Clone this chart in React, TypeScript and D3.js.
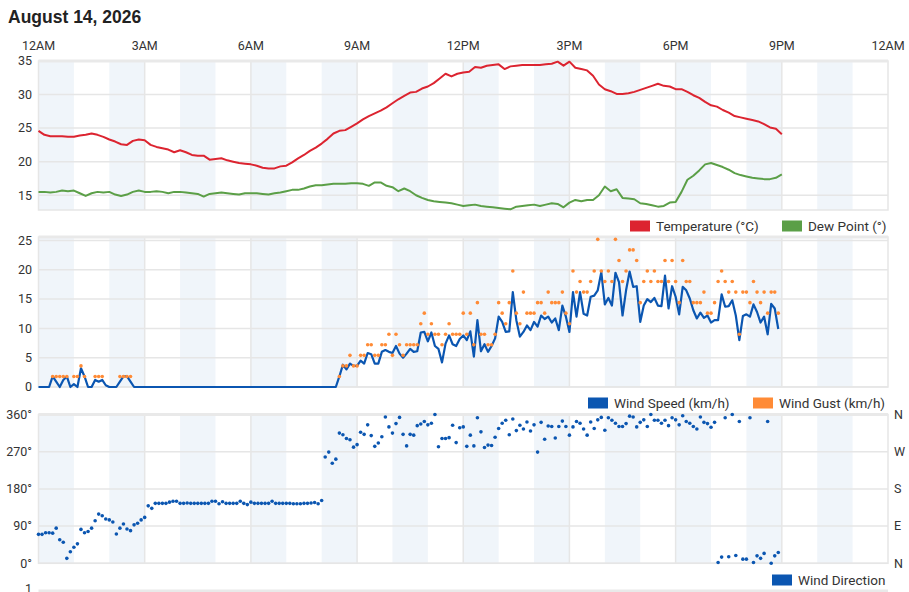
import * as d3 from "d3"

// 10-minute samples from 12AM to 9PM
const temperature = [
  24.6, 24.0, 23.8, 23.8, 23.8, 23.7, 23.7, 23.9, 24.0, 24.2, 24.0, 23.7,
  23.3, 23.0, 22.6, 22.5, 23.1, 23.3, 23.2, 22.5, 22.2, 22.0, 21.8, 21.4,
  21.7, 21.4, 21.0, 20.9, 20.9, 20.3, 20.4, 20.5, 20.2, 20.0, 19.8, 19.7,
  19.6, 19.4, 19.1, 19.0, 19.0, 19.3, 19.4, 19.9, 20.5, 21.0, 21.6, 22.1,
  22.7, 23.4, 24.2, 24.6, 24.7, 25.2, 25.7, 26.3, 26.8, 27.2, 27.6, 28.1,
  28.7, 29.3, 29.8, 30.3, 30.4, 30.9, 31.2, 31.7, 32.4, 33.1, 32.7, 33.1,
  33.3, 33.4, 34.1, 34.0, 34.3, 34.4, 34.5, 33.8, 34.2, 34.3, 34.4, 34.4,
  34.4, 34.4, 34.5, 34.6, 34.9, 34.3, 34.9, 34.0, 33.8, 33.6, 32.8, 31.5,
  30.8, 30.5, 30.1, 30.1, 30.2, 30.4, 30.7, 31.0, 31.3, 31.6, 31.3, 31.2,
  30.8, 30.8, 30.4, 29.9, 29.5, 28.9, 28.4, 28.2, 27.7, 27.3, 26.8, 26.6,
  26.4, 26.2, 26.0, 25.6, 25.1, 24.9, 24.1,
]

const dewPoint = [
  15.5, 15.5, 15.4, 15.5, 15.7, 15.6, 15.7, 15.3, 14.9, 15.3, 15.5, 15.4,
  15.5, 15.1, 14.9, 15.1, 15.5, 15.7, 15.5, 15.5, 15.6, 15.5, 15.3, 15.5,
  15.5, 15.4, 15.3, 15.2, 14.8, 15.2, 15.3, 15.4, 15.3, 15.2, 15.1, 15.3,
  15.3, 15.3, 15.2, 15.1, 15.3, 15.4, 15.6, 15.8, 15.8, 16.0, 16.3, 16.5,
  16.5, 16.6, 16.7, 16.7, 16.7, 16.8, 16.8, 16.7, 16.4, 16.9, 16.9, 16.4,
  16.2, 15.6, 16.0, 15.6, 15.0, 14.6, 14.3, 14.1, 14.0, 13.9, 13.8, 13.6,
  13.4, 13.5, 13.6, 13.4, 13.3, 13.2, 13.1, 13.0, 12.9, 13.3, 13.4, 13.5,
  13.6, 13.4, 13.6, 13.8, 13.7, 13.2, 13.9, 14.3, 14.1, 14.3, 14.3, 15.0,
  16.3, 15.6, 15.9, 14.6, 14.5, 14.4, 13.8, 13.7, 13.5, 13.3, 13.4, 13.9,
  14.0, 15.5, 17.3, 17.9, 18.7, 19.6, 19.8, 19.5, 19.2, 18.8, 18.3, 18.0,
  17.8, 17.6, 17.5, 17.4, 17.4, 17.6, 18.1,
]

// 6-minute samples from 12AM
const windSpeed = [
  0, 0, 0, 0, 1.8, 0.9, 0, 1.2, 1.8, 0,
  0.5, 0, 3.2, 1.8, 0, 0, 1.2, 0.9, 1.2, 0.3,
  0, 0, 0, 0.9, 1.8, 1.8, 0.9, 0, 0, 0,
  0, 0, 0, 0, 0, 0, 0, 0, 0, 0,
  0, 0, 0, 0, 0, 0, 0, 0, 0, 0,
  0, 0, 0, 0, 0, 0, 0, 0, 0, 0,
  0, 0, 0, 0, 0, 0, 0, 0, 0, 0,
  0, 0, 0, 0, 0, 0, 0, 0, 0, 0,
  0, 0, 0, 0, 0, 1.8, 3.8, 3.0, 4.0, 3.6,
  3.6, 4.5, 4.0, 5.8, 5.6, 4.0, 4.0, 6.0, 6.3, 6.0,
  5.8, 7.0, 5.7, 5.0, 5.7, 6.5, 6.0, 6.1, 9.3, 9.4,
  7.8, 9.3, 7.0, 6.5, 4.2, 7.4, 8.8, 7.3, 7.0, 8.2,
  8.8, 8.0, 9.5, 5.2, 11.4, 6.1, 7.3, 6.0, 7.0, 8.3,
  12.0, 11.1, 9.4, 9.5, 16.2, 11.4, 8.6, 9.4, 10.5, 9.7,
  11.1, 10.3, 12.2, 11.6, 12.0, 11.0, 11.7, 9.7, 13.9, 12.0,
  9.4, 16.2, 12.0, 16.2, 12.5, 12.2, 15.4, 15.6, 16.5, 19.6,
  14.1, 15.2, 13.9, 19.5, 17.9, 12.2, 16.5, 19.7, 17.1, 17.2,
  11.1, 13.9, 15.0, 14.5, 15.2, 13.9, 13.8, 19.0, 13.4, 17.2,
  15.4, 12.4, 17.1, 16.5, 15.1, 13.1, 11.7, 12.7, 11.8, 12.2,
  11.0, 11.4, 11.4, 15.8, 13.7, 13.8, 14.8, 12.2, 8.0, 12.1,
  12.4, 12.0, 14.1, 12.8, 11.0, 12.0, 9.0, 14.2, 13.4, 9.9,
]

const windGust: (number | null)[] = [
  null, null, null, null, 1.8, 1.8, 1.8, 1.8, 1.8, null,
  1.8, 1.8, 3.6, 1.8, null, null, 1.8, 1.8, 1.8, null,
  null, null, null, 1.8, 1.8, 1.8, 1.8, null, null, null,
  null, null, null, null, null, null, null, null, null, null,
  null, null, null, null, null, null, null, null, null, null,
  null, null, null, null, null, null, null, null, null, null,
  null, null, null, null, null, null, null, null, null, null,
  null, null, null, null, null, null, null, null, null, null,
  null, null, null, null, null, 1.8, 3.6, 3.6, 5.4, 3.6,
  3.6, 5.4, 5.4, 7.2, 7.2, 5.4, 5.4, 7.2, 7.2, 9.0,
  5.4, 9.0, 7.2, 5.4, 7.2, 7.2, 7.2, 7.2, 10.8, 12.6,
  9.0, 10.8, 9.0, 9.0, 7.2, 9.0, 10.8, 9.0, 9.0, 9.0,
  12.6, 9.0, 12.6, 7.2, 14.4, 9.0, 9.0, 7.2, 7.2, 9.0,
  14.4, 12.6, 10.8, 14.4, 19.8, 12.6, 10.8, 16.2, 12.6, 12.6,
  12.6, 14.4, 14.4, 12.6, 16.2, 14.4, 14.4, 14.4, 16.2, 12.6,
  10.8, 19.8, 16.2, 18.0, 16.2, 16.2, 18.0, 19.8, 25.2, 19.8,
  18.0, 19.8, 18.0, 25.2, 21.6, 18.0, 19.8, 23.4, 23.4, 21.6,
  14.4, 18.0, 19.8, 18.0, 19.8, 18.0, 18.0, 21.6, 18.0, 21.6,
  18.0, 14.4, 21.6, 18.0, 18.0, 14.4, 14.4, 14.4, 16.2, 12.6,
  12.6, 14.4, 18.0, 19.8, 18.0, 16.2, 18.0, 16.2, 9.0, 16.2,
  16.2, 14.4, 18.0, 16.2, 14.4, 16.2, 12.6, 16.2, 16.2, 12.6,
]

const windDir = [
  70, 70, 74, 74, 73, 85, 57, 51, 12, 28,
  39, 47, 82, 74, 77, 85, 103, 119, 115, 107,
  105, 100, 71, 85, 95, 83, 79, 93, 97, 105,
  111, 139, 133, 145, 145, 145, 145, 148, 150, 150,
  145, 145, 146, 145, 145, 145, 145, 145, 145, 150,
  150, 144, 149, 145, 145, 145, 145, 150, 145, 142,
  148, 145, 145, 145, 145, 145, 150, 145, 145, 145,
  145, 145, 144, 144, 144, 145, 145, 146, 147, 144,
  152, 257, 269, 242, 252, 315, 311, 302, 299, 281,
  287, 317, 312, 335, 309, 283, 291, 306, 354, 330,
  315, 338, 353, 312, 284, 312, 310, 333, 337, 343,
  335, 339, 360, 282, 302, 302, 304, 334, 292, 328,
  330, 283, 310, 284, 352, 318, 280, 286, 285, 305,
  326, 339, 346, 311, 349, 321, 334, 325, 342, 320,
  335, 269, 341, 300, 332, 331, 303, 331, 344, 331,
  310, 330, 343, 339, 325, 310, 342, 326, 347, 353,
  322, 352, 346, 339, 331, 331, 338, 356, 354, 330,
  341, 347, 331, 360, 346, 346, 339, 346, 333, 352,
  347, 335, 357, 343, 339, 331, 325, 354, 341, 338,
  329, 341, 2, 15, 352, 16, 360, 19, 343, 10,
  10, 352, 2, 18, 12, 24, 343, 0, 18, 26,
]

const hourLabels = ["12AM", "3AM", "6AM", "9AM", "12PM", "3PM", "6PM", "9PM", "12AM"]
const tempTicks = [15, 20, 25, 30, 35]
const windTicks = [0, 5, 10, 15, 20, 25]
const dirTicks = [0, 90, 180, 270, 360]
const dirNames = ["N", "E", "S", "W", "N"]

const TEMP_STEP = 10
const WIND_STEP = 6

const COLORS = {
  temp: "#dc2430",
  dew: "#5b9f47",
  speed: "#0b56b1",
  gust: "#ff8b36",
  grid: "#e6e6e6",
  band: "#f0f5fa",
  text: "#333",
}

const FONT = "Roboto, 'Liberation Sans', Arial, sans-serif"

const x = d3.scaleLinear().domain([0, 1440]).range([38.5, 888])

const panels = {
  temp: { top: 61, bottom: 210 },
  wind: { top: 237, bottom: 387 },
  dir: { top: 414.5, bottom: 563.3 },
}

const yTemp = d3.scaleLinear().domain([12.8, 35]).range([panels.temp.bottom, panels.temp.top])
const yWind = d3.scaleLinear().domain([0, 25.6]).range([panels.wind.bottom, panels.wind.top])
const yDir = d3.scaleLinear().domain([0, 360]).range([panels.dir.bottom, panels.dir.top])

const bands = d3.range(0, 24, 2)
const vGrid = d3.range(180, 1440, 180)

function PanelFrame({ top, bottom, ticks, y, fmt }: { top: number; bottom: number; ticks: number[]; y: d3.ScaleLinear<number, number>; fmt?: (d: number) => string }) {
  return (
    <g>
      <rect x={x(0)} y={top} width={x(1440) - x(0)} height={bottom - top} fill="#fff" />
      {bands.map((h) => (
        <rect key={h} x={x(h * 60)} y={top} width={x(h * 60 + 60) - x(h * 60)} height={bottom - top} fill={COLORS.band} />
      ))}
      {ticks.map((t) => (
        <line key={t} x1={x(0)} x2={x(1440)} y1={y(t)} y2={y(t)} stroke={COLORS.grid} strokeWidth={1.5} />
      ))}
      {vGrid.map((m) => (
        <line key={m} x1={x(m)} x2={x(m)} y1={top} y2={bottom} stroke={COLORS.grid} strokeWidth={1.5} />
      ))}
      <rect x={x(0)} y={top} width={x(1440) - x(0)} height={bottom - top} fill="none" stroke={COLORS.grid} strokeWidth={1.5} />
      <line x1={x(0)} x2={x(1440)} y1={top} y2={top} stroke="#e9e9e9" strokeWidth={3} />
      {ticks.map((t) => (
        <text key={t} x={32} y={y(t)} dy="0.35em" textAnchor="end" fontSize={12.5} fill={COLORS.text} fontFamily={FONT}>
          {fmt ? fmt(t) : t}
        </text>
      ))}
    </g>
  )
}

function LegendItem({ lx, ly, color, label }: { lx: number; ly: number; color: string; label: string }) {
  return (
    <g>
      <rect x={lx} y={ly - 5.5} width={20} height={11} fill={color} />
      <text x={lx + 26} y={ly} dy="0.36em" fontSize={13.5} fill={COLORS.text} fontFamily={FONT}>
        {label}
      </text>
    </g>
  )
}

export default function App() {
  const tempLine = d3
    .line<number>()
    .x((_, i) => x(i * TEMP_STEP))
    .y((d) => yTemp(d))
  const speedLine = d3
    .line<number>()
    .x((_, i) => x(i * WIND_STEP))
    .y((d) => yWind(d))

  return (
    <svg width={909} height={592} style={{ position: "absolute", left: 0, top: 0, background: "#fff" }}>
      <text x={8} y={23} fontSize={17.5} fontWeight="bold" fill="#222" fontFamily="'Liberation Sans', Arial, sans-serif">
        August 14, 2026
      </text>

      {hourLabels.map((l, i) => (
        <text key={i} x={x(i * 180)} y={46} dy="0.35em" textAnchor="middle" fontSize={12.5} fill={COLORS.text} fontFamily={FONT}>
          {l}
        </text>
      ))}

      {/* Temperature / dew point */}
      <PanelFrame top={panels.temp.top} bottom={panels.temp.bottom} ticks={tempTicks} y={yTemp} />
      <path d={tempLine(dewPoint) || ""} fill="none" stroke={COLORS.dew} strokeWidth={2} strokeLinejoin="round" />
      <path d={tempLine(temperature) || ""} fill="none" stroke={COLORS.temp} strokeWidth={2} strokeLinejoin="round" />
      <LegendItem lx={630} ly={226} color={COLORS.temp} label="Temperature (°C)" />
      <LegendItem lx={782} ly={226} color={COLORS.dew} label="Dew Point (°)" />

      {/* Wind speed / gust */}
      <PanelFrame top={panels.wind.top} bottom={panels.wind.bottom} ticks={windTicks} y={yWind} />
      <path d={speedLine(windSpeed) || ""} fill="none" stroke={COLORS.speed} strokeWidth={2.2} strokeLinejoin="round" />
      {windGust.map((g, i) =>
        g === null ? null : <circle key={i} cx={x(i * WIND_STEP)} cy={yWind(g)} r={1.8} fill={COLORS.gust} />,
      )}
      <LegendItem lx={588} ly={403} color={COLORS.speed} label="Wind Speed (km/h)" />
      <LegendItem lx={753} ly={403} color={COLORS.gust} label="Wind Gust (km/h)" />

      {/* Wind direction */}
      <PanelFrame top={panels.dir.top} bottom={panels.dir.bottom} ticks={dirTicks} y={yDir} fmt={(d) => `${d}°`} />
      {windDir.map((d, i) => (
        <circle key={i} cx={x(i * WIND_STEP)} cy={yDir(d)} r={1.8} fill={COLORS.speed} />
      ))}
      {dirTicks.map((t, i) => (
        <text key={t} x={894} y={yDir(t)} dy="0.35em" fontSize={12.5} fill={COLORS.text} fontFamily={FONT}>
          {dirNames[i]}
        </text>
      ))}
      <LegendItem lx={772} ly={580} color={COLORS.speed} label="Wind Direction" />

      {/* next panel, cut off at the bottom */}
      <line x1={x(0)} x2={x(1440)} y1={591} y2={591} stroke="#e9e9e9" strokeWidth={3} />
      <text x={32} y={593} textAnchor="end" fontSize={12.5} fill={COLORS.text} fontFamily={FONT}>
        1
      </text>
    </svg>
  )
}
